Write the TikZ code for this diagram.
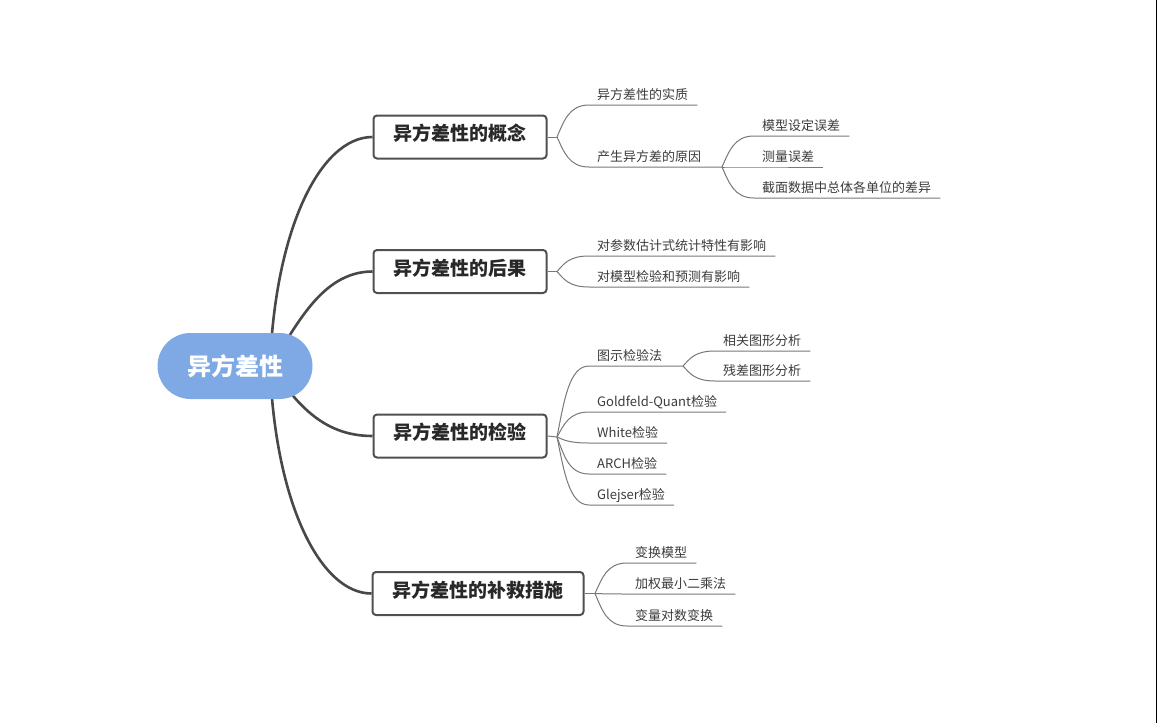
\documentclass[tikz,border=0pt]{standalone}
\usepackage{fontspec}
\setmainfont{Noto Sans CJK SC}
\usetikzlibrary{calc}
\definecolor{rootblue}{RGB}{126,169,229}
\definecolor{mainline}{RGB}{72,72,72}
\definecolor{boxline}{RGB}{80,80,80}
\definecolor{boxtext}{RGB}{40,40,40}
\definecolor{leafcol}{RGB}{120,120,120}
\definecolor{leaftxt}{RGB}{60,60,60}
\tikzset{
  rootnode/.style={fill=rootblue, rounded corners=33pt, minimum width=155pt, minimum height=66pt,
    text=white, font=\fontsize{24pt}{24pt}\selectfont\bfseries, inner sep=0pt},
  branchbox/.style={draw=boxline, line width=2pt, fill=white, rounded corners=3.5pt,
    minimum height=43pt, inner xsep=20pt, inner ysep=0pt, text=boxtext,
    font=\fontsize{19pt}{19pt}\selectfont\bfseries, text height=0.86em, text depth=0.14em},
  mainconn/.style={draw=mainline, line width=2.6pt},
  leafline/.style={draw=leafcol, line width=1pt},
  leaftext/.style={text=leaftxt, font=\fontsize{13pt}{13pt}\selectfont, inner sep=0pt},
}
% #1 jx, #2 jy, #3 uy, #4 name, #5 text, #6 extra length of underline
\newcommand\mmleaf[6]{%
  \node[leaftext, anchor=base west] (#4) at (#1+40,#3-6) {#5};
  \draw[leafline] (#1,#2) .. controls (#1+7,{#2+0.5*(#3-#2)}) and (#1+12,#3) .. (#1+32,#3) -- ($(#4.base east)+(#6,6)$);
}
\begin{document}
\begin{tikzpicture}[x=1pt,y=-1pt]
\useasboundingbox (0,0) rectangle (1157,723);
\fill[white] (0,0) rectangle (1157,723);
\fill[black] (1155.5,0) rectangle (1157,723);

% branch boxes
\node[branchbox] (b1) at (460,137) {异方差性的概念};
\node[branchbox] (b2) at (460,271.5) {异方差性的后果};
\node[branchbox] (b3) at (460,436) {异方差性的检验};
\node[branchbox] (b4) at (478,593.5) {异方差性的补救措施};

% root connectors
\coordinate (r0) at (270,366);
\draw[mainconn] (r0) .. controls (275,230) and (320,137) .. (b1.west);
\draw[mainconn] (r0) .. controls (295,330) and (320,271.5) .. (b2.west);
\draw[mainconn] (r0) .. controls (295,400) and (320,436) .. (b3.west);
\draw[mainconn] (r0) .. controls (275,502) and (320,593.5) .. (b4.west);

% root
\node[rootnode] (root) at (235,366) {异方差性};

% junctions
\coordinate (J1) at (557,137);
\coordinate (J2) at (557,271.5);
\coordinate (J3) at (557,437);
\coordinate (J4) at (595,593.5);
\draw[leafline] (b1.east) -- (J1);
\draw[leafline] (b2.east) -- (J2);
\draw[leafline] (b3.east) -- (J3);
\draw[leafline] (b4.east) -- (J4);

% branch 1
\mmleaf{557}{137}{105}{l11}{异方差性的实质}{9}
\mmleaf{557}{137}{167}{l12}{产生异方差的原因}{21}
\coordinate (J12) at ($(l12.base east)+(21,6)$);
\mmleaf{722}{167}{136}{l121}{模型设定误差}{9}
\mmleaf{722}{167}{167}{l122}{测量误差}{9}
\mmleaf{722}{167}{198}{l123}{截面数据中总体各单位的差异}{9}

% branch 2
\mmleaf{557}{271.5}{256}{l21}{对参数估计式统计特性有影响}{9}
\mmleaf{557}{271.5}{287}{l22}{对模型检验和预测有影响}{9}

% branch 3
\mmleaf{557}{437}{366}{l31}{图示检验法}{21}
\mmleaf{683}{366}{351}{l311}{相关图形分析}{9}
\mmleaf{683}{366}{381}{l312}{残差图形分析}{9}
\mmleaf{557}{437}{412}{l32}{Goldfeld-Quant检验}{9}
\mmleaf{557}{437}{443}{l33}{White检验}{9}
\mmleaf{557}{437}{474}{l34}{ARCH检验}{9}
\mmleaf{557}{437}{505}{l35}{Glejser检验}{9}

% branch 4
\mmleaf{595}{593.5}{563}{l41}{变换模型}{9}
\mmleaf{595}{593.5}{594}{l42}{加权最小二乘法}{9}
\mmleaf{595}{593.5}{626}{l43}{变量对数变换}{9}
\end{tikzpicture}
\end{document}
